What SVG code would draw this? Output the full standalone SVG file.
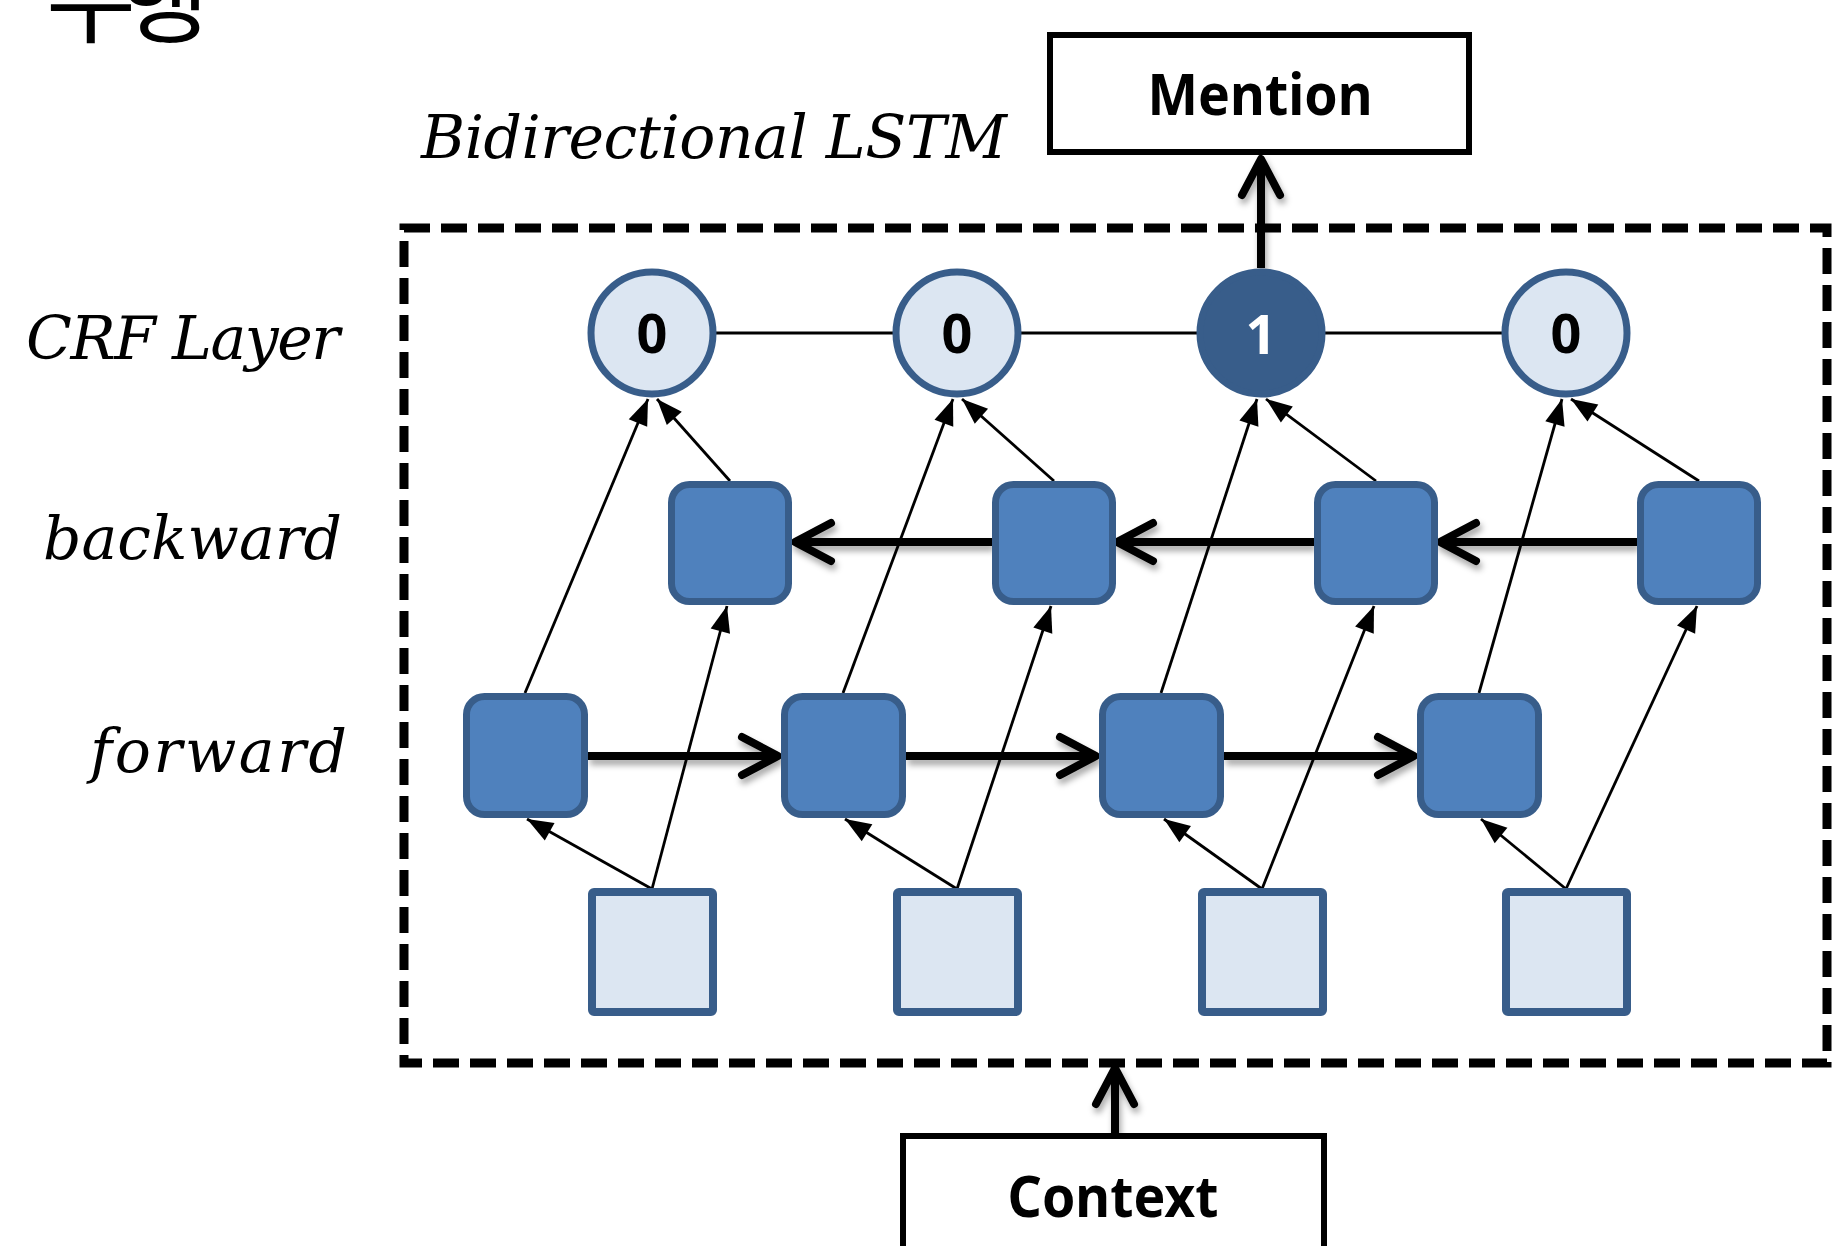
<svg xmlns="http://www.w3.org/2000/svg" width="1832" height="1246" viewBox="0 0 1832 1246">
  <style>
    .label { font-family: "DejaVu Serif", "Liberation Serif", serif; font-style: italic; font-size: 60px; fill: #000; }
    .boxtext { font-family: "Noto Sans", "Open Sans", "Liberation Sans", sans-serif; font-weight: bold; font-size: 58px; fill: #000; text-anchor: middle; }
    .digit { font-family: "Noto Sans", "Open Sans", "Liberation Sans", sans-serif; font-weight: bold; font-size: 54px; text-anchor: middle; }
    .io { fill: #fff; stroke: #000; stroke-width: 6; }
    .crf { fill: #DCE6F2; stroke: #385D8A; stroke-width: 7; }
    .crf-on { fill: #385D8A; stroke: #385D8A; stroke-width: 7; }
    .cell { fill: #4F81BD; stroke: #385D8A; stroke-width: 7; }
    .input { fill: #DCE6F2; stroke: #385D8A; stroke-width: 8; }
    .thin { fill: none; stroke: #000; stroke-width: 2.8; }
    .thin-arrow { fill: none; stroke: #000; stroke-width: 2.8; marker-end: url(#tri); }
    .thick-arrow { fill: none; stroke: #000; stroke-width: 8; marker-end: url(#chev); }
  </style>
  <defs>
    <marker id="tri" markerUnits="userSpaceOnUse" markerWidth="30" markerHeight="24" viewBox="-28 -12 30 24" refX="0" refY="0" orient="auto">
      <path d="M-26,-10 L0,0 L-26,10 Z" fill="#000"/>
    </marker>
    <marker id="chev" markerUnits="userSpaceOnUse" markerWidth="60" markerHeight="60" viewBox="-50 -30 60 60" refX="0" refY="0" orient="auto">
      <path d="M-36,-19 L0,0 L-36,19" fill="none" stroke="#000" stroke-width="8" stroke-linecap="round" stroke-linejoin="round"/>
    </marker>
    <filter id="shadow" filterUnits="userSpaceOnUse" x="0" y="0" width="1832" height="1246">
      <feDropShadow dx="2" dy="5" stdDeviation="3" flood-color="#000" flood-opacity="0.35"/>
    </filter>
  </defs>

  <rect width="1832" height="1246" fill="#fff"/>

  <!-- heading fragment at the top edge -->
  <text x="46" y="35" font-family="Noto Sans CJK KR, sans-serif" font-size="98" letter-spacing="-17" fill="#000">수행</text>

  <!-- side labels -->
  <text class="label" x="421" y="158" textLength="586" lengthAdjust="spacing">Bidirectional LSTM</text>
  <text class="label" x="26" y="359" textLength="314" lengthAdjust="spacing">CRF Layer</text>
  <text class="label" x="43" y="559" textLength="299" lengthAdjust="spacing">backward</text>
  <text class="label" x="90" y="772" textLength="257" lengthAdjust="spacing">forward</text>

  <!-- Bi-LSTM boundary -->
  <rect id="bilstm-frame" x="404" y="228" width="1423" height="835" fill="none" stroke="#000" stroke-width="9" stroke-dasharray="26 11"/>

  <g id="connectors">
    <!-- CRF chain -->
    <path class="thin" d="M716,333 H893 M1021,333 H1197 M1325,333 H1502"/>

    <!-- recurrent links with shadow -->
    <g filter="url(#shadow)">
      <path class="thick-arrow" d="M588,756 H778"/>
      <path class="thick-arrow" d="M906,756 H1096"/>
      <path class="thick-arrow" d="M1224,756 H1414"/>
      <path class="thick-arrow" d="M992,542 H795"/>
      <path class="thick-arrow" d="M1314,542 H1117"/>
      <path class="thick-arrow" d="M1637,542 H1440"/>
      <path class="thick-arrow" stroke-width="7" d="M1261,268 V159"/>
      <path class="thick-arrow" stroke-width="7" d="M1115,1133 V1068"/>
    </g>

    <!-- input -> forward cells -->
    <path class="thin-arrow" d="M652,889 L527,819"/>
    <path class="thin-arrow" d="M957,889 L845,819"/>
    <path class="thin-arrow" d="M1262,889 L1164,819"/>
    <path class="thin-arrow" d="M1566,889 L1481,819"/>
    <!-- input -> backward cells -->
    <path class="thin-arrow" d="M652,889 L727,606"/>
    <path class="thin-arrow" d="M957,889 L1051,606"/>
    <path class="thin-arrow" d="M1262,889 L1374,606"/>
    <path class="thin-arrow" d="M1566,889 L1697,606"/>
    <!-- forward cells -> CRF -->
    <path class="thin-arrow" d="M525,693 L648,399"/>
    <path class="thin-arrow" d="M843,693 L953,399"/>
    <path class="thin-arrow" d="M1161,693 L1257,399"/>
    <path class="thin-arrow" d="M1479,693 L1562,399"/>
    <!-- backward cells -> CRF -->
    <path class="thin-arrow" d="M730,481 L657,399"/>
    <path class="thin-arrow" d="M1054,481 L962,399"/>
    <path class="thin-arrow" d="M1376,481 L1266,399"/>
    <path class="thin-arrow" d="M1699,481 L1571,399"/>
  </g>

  <g id="mention">
    <rect class="io" x="1050" y="35" width="419" height="117"/>
    <text class="boxtext" x="1260" y="115" textLength="225" lengthAdjust="spacingAndGlyphs">Mention</text>
  </g>
  <g id="context">
    <rect class="io" x="903" y="1136" width="421" height="200"/>
    <text class="boxtext" x="1113" y="1217" textLength="211" lengthAdjust="spacingAndGlyphs">Context</text>
  </g>

  <g id="crf-1"><circle class="crf" cx="652" cy="333" r="61"/><text class="digit" x="652" y="353" fill="#000">0</text></g>
  <g id="crf-2"><circle class="crf" cx="957" cy="333" r="61"/><text class="digit" x="957" y="353" fill="#000">0</text></g>
  <g id="crf-3"><circle class="crf-on" cx="1261" cy="333" r="61"/><text class="digit" x="1261" y="354" fill="#fff">1</text></g>
  <g id="crf-4"><circle class="crf" cx="1566" cy="333" r="61"/><text class="digit" x="1566" y="353" fill="#000">0</text></g>

  <g id="bwd-1"><rect class="cell" x="671.5" y="484.5" width="117" height="117" rx="18"/></g>
  <g id="bwd-2"><rect class="cell" x="995.5" y="484.5" width="117" height="117" rx="18"/></g>
  <g id="bwd-3"><rect class="cell" x="1317.5" y="484.5" width="117" height="117" rx="18"/></g>
  <g id="bwd-4"><rect class="cell" x="1640.5" y="484.5" width="117" height="117" rx="18"/></g>

  <g id="fwd-1"><rect class="cell" x="466.5" y="696.5" width="118" height="118" rx="18"/></g>
  <g id="fwd-2"><rect class="cell" x="784.5" y="696.5" width="118" height="118" rx="18"/></g>
  <g id="fwd-3"><rect class="cell" x="1102.5" y="696.5" width="118" height="118" rx="18"/></g>
  <g id="fwd-4"><rect class="cell" x="1420.5" y="696.5" width="118" height="118" rx="18"/></g>

  <g id="in-1"><rect class="input" x="592" y="892" width="121" height="120" rx="2"/></g>
  <g id="in-2"><rect class="input" x="897" y="892" width="121" height="120" rx="2"/></g>
  <g id="in-3"><rect class="input" x="1202" y="892" width="121" height="120" rx="2"/></g>
  <g id="in-4"><rect class="input" x="1506" y="892" width="121" height="120" rx="2"/></g>
</svg>
